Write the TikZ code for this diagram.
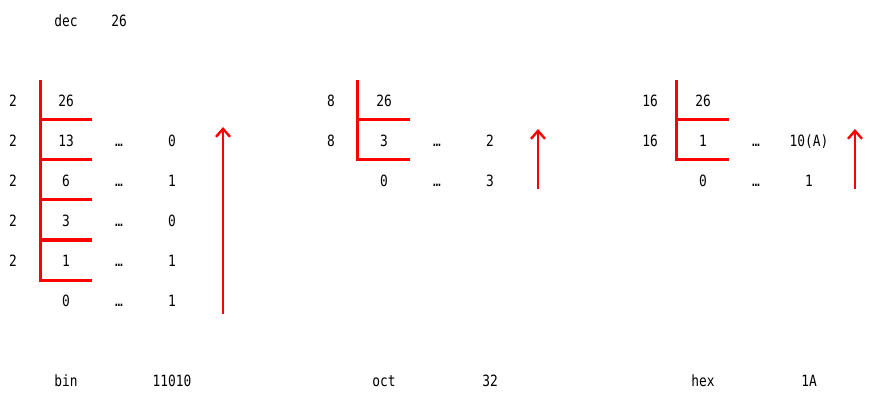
\documentclass[tikz,border=0pt]{standalone}
\usepackage{fontspec}
\setmonofont[FakeStretch=0.83]{DejaVu Sans Mono}
\usetikzlibrary{arrows.meta}

\begin{document}
\begin{tikzpicture}[x=1pt, y=-1pt,
        num/.style={font=\ttfamily\fontsize{15.5}{18}\selectfont, inner sep=0pt,
                    text height=11.3pt, text depth=0pt, anchor=center},
        bar/.style={draw=red, line width=3pt},
        up/.style={-{Straight Barb[length=8pt, width=14pt]}, draw=red, line width=2.4pt}
    ]
    \useasboundingbox (0,0) rectangle (870,406);

    % header
    \node[num] (dec)    at (66, 21)  {dec};
    \node[num] (decval) at (119, 21) {26};

    % binary
    \foreach \q [count=\i] in {26,13,6,3,1,0}
        \node[num] (bq\i) at (66, 61+40*\i) {\q};
    \foreach \i in {1,...,5}
        \node[num] (bd\i) at (13, 61+40*\i) {2};
    \foreach \r [count=\i] in {0,1,0,1,1} {
        \node[num] (bdot\i) at (119, 101+40*\i) {…};
        \node[num] (br\i)   at (172, 101+40*\i) {\r};
    }
    \coordinate (btop) at (40, 80);
    \coordinate (bbot) at (40, 280);
    \draw[bar] (btop) -- (bbot) -- ++(52,0);
    \foreach \y in {120,160,200,240}
        \draw[bar] (40,\y) -- ++(52,0);
    \coordinate (barrS) at (223, 314);
    \coordinate (barrE) at (223, 127);
    \draw[up] (barrS) -- (barrE);

    % octal
    \node[num] (od1) at (331, 101) {8};
    \node[num] (od2) at (331, 141) {8};
    \node[num] (oq1) at (384, 101) {26};
    \node[num] (oq2) at (384, 141) {3};
    \node[num] (oq3) at (384, 181) {0};
    \node[num] (odot1) at (437, 141) {…};
    \node[num] (odot2) at (437, 181) {…};
    \node[num] (or1) at (490, 141) {2};
    \node[num] (or2) at (490, 181) {3};
    \coordinate (otop) at (357, 80);
    \coordinate (obot) at (357, 160);
    \draw[bar] (otop) -- (obot) -- ++(53,0);
    \draw[bar] (357,120) -- ++(53,0);
    \coordinate (oarrS) at (538, 189);
    \coordinate (oarrE) at (538, 129);
    \draw[up] (oarrS) -- (oarrE);

    % hexadecimal
    \node[num] (hd1) at (650, 101) {16};
    \node[num] (hd2) at (650, 141) {16};
    \node[num] (hq1) at (703, 101) {26};
    \node[num] (hq2) at (703, 141) {1};
    \node[num] (hq3) at (703, 181) {0};
    \node[num] (hdot1) at (756, 141) {…};
    \node[num] (hdot2) at (756, 181) {…};
    \node[num] (hr1) at (809, 141) {10(A)};
    \node[num] (hr2) at (809, 181) {1};
    \coordinate (htop) at (676, 80);
    \coordinate (hbot) at (676, 160);
    \draw[bar] (htop) -- (hbot) -- ++(53,0);
    \draw[bar] (676,120) -- ++(53,0);
    \coordinate (harrS) at (855, 189);
    \coordinate (harrE) at (855, 129);
    \draw[up] (harrS) -- (harrE);

    % results
    \node[num] (bin)    at (66, 381)  {bin};
    \node[num] (binval) at (172, 381) {11010};
    \node[num] (oct)    at (384, 381) {oct};
    \node[num] (octval) at (490, 381) {32};
    \node[num] (hex)    at (703, 381) {hex};
    \node[num] (hexval) at (809, 381) {1A};
\end{tikzpicture}
\end{document}
